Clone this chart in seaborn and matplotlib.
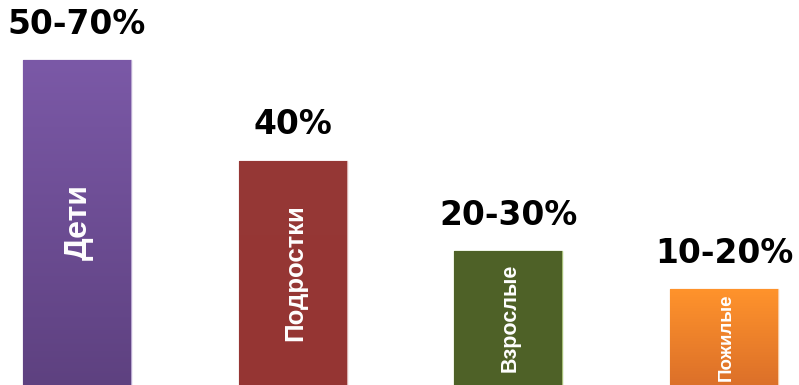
import matplotlib
matplotlib.use("Agg")
import matplotlib.pyplot as plt
import seaborn as sns
import numpy as np
import pandas as pd
from matplotlib.colors import LinearSegmentedColormap

categories = ["Дети", "Подростки", "Взрослые", "Пожилые"]
values = [60, 41.4, 24.7, 17.7]
top_labels = ["50-70%", "40%", "20-30%", "10-20%"]
top_colors = ["#7B59A7", "#963836", "#4F6228", "#FF932C"]
bottom_colors = ["#5E4180", "#953533", "#4E6127", "#DC7029"]
edge_colors = ["#B9A8D0", "#D9B0AF", "#A8C07A", "#F9C9A0"]
inner_sizes = [23, 18.5, 15.5, 13.5]

df = pd.DataFrame({"group": categories, "value": values})

sns.set_theme(style="white")
plt.rcParams["font.family"] = ["DejaVu Sans"]

fig = plt.figure(figsize=(7.99, 3.85), dpi=100)
ax = fig.add_axes([0, 0, 1, 1])
sns.barplot(data=df, x="group", y="value", hue="group", palette=top_colors,
            width=0.5, legend=False, ax=ax, saturation=1)

ax.set_xlim(-0.357, 3.348)
ax.set_ylim(0, 71.07)
ax.axis("off")

for i, patch in enumerate(ax.patches):
    x0, y0 = patch.get_x(), patch.get_y()
    w, h = patch.get_width(), patch.get_height()
    cmap = LinearSegmentedColormap.from_list(f"g{i}", [bottom_colors[i], top_colors[i]])
    grad = np.linspace(0, 1, 256).reshape(-1, 1)
    im = ax.imshow(grad, cmap=cmap, aspect="auto", origin="lower",
                   extent=[x0, x0 + w, y0, y0 + h], zorder=patch.get_zorder())
    im.set_clip_path(patch)
    patch.set_edgecolor(edge_colors[i])
    patch.set_linewidth(1.0)
    ax.text(x0 + w / 2 + 0.01, h / 2, categories[i], rotation=90,
            ha="center", va="center", color="white", fontweight="bold",
            fontsize=inner_sizes[i],
            family=["Liberation Sans", "DejaVu Sans"], zorder=5)
    ax.annotate(top_labels[i], xy=(x0 + w / 2, h), xytext=(0, 19),
                textcoords="offset points", ha="center", va="baseline",
                fontsize=23.7, fontweight="bold", color="black",
                family=["DejaVu Sans"], zorder=5)

ax.set_xlim(-0.357, 3.348)
ax.set_ylim(0, 71.07)
fig.savefig("out.png", dpi=100)
